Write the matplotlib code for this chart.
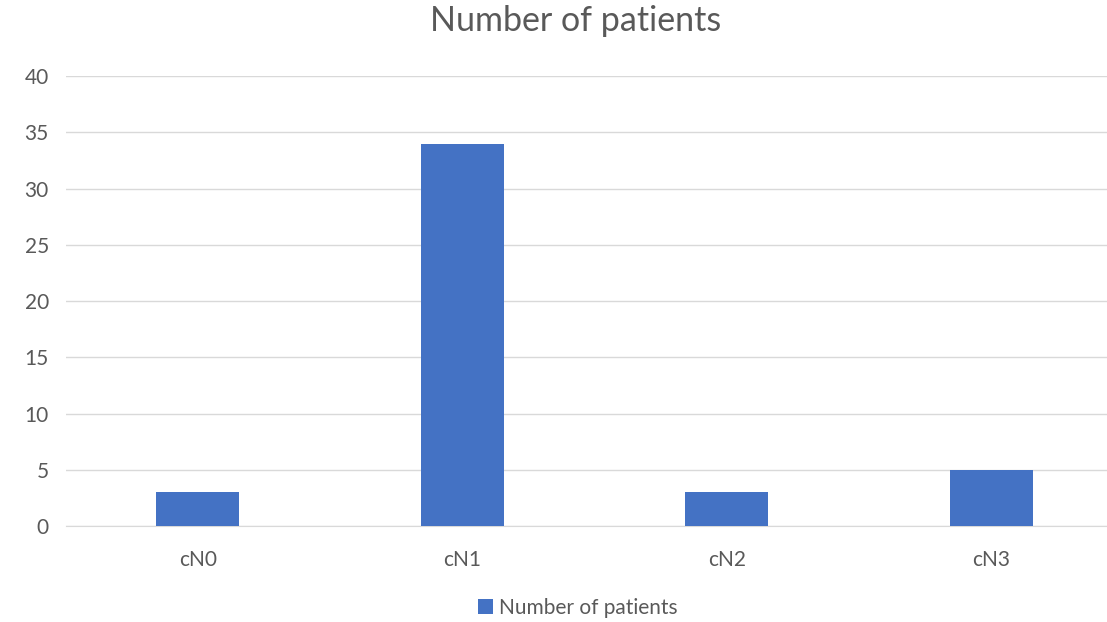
import matplotlib
matplotlib.use("Agg")
import matplotlib.pyplot as plt
from matplotlib.patches import Patch

categories = ["cN0", "cN1", "cN2", "cN3"]
patients = [3, 34, 3, 5]
y_ticks = [0, 5, 10, 15, 20, 25, 30, 35, 40]

BAR_COLOR = "#4472C4"
TEXT_COLOR = "#595959"
GRID_COLOR = "#D9D9D9"

plt.rcParams['font.family'] = ['Lato', 'DejaVu Sans']

fig = plt.figure(figsize=(11.07, 6.22), dpi=100)
ax = fig.add_axes([0.0592, 0.1543, 0.9557, 0.7235])

ax.bar(range(len(categories)), patients, width=0.315, color=BAR_COLOR, zorder=3)
ax.set_xlim(-0.5, len(categories) - 0.5)
ax.set_ylim(0, 40)
ax.set_yticks(y_ticks)
ax.set_xticks(range(len(categories)))
ax.set_xticklabels(categories)

ax.grid(axis='y', color=GRID_COLOR, linewidth=1, zorder=0)
for side in ['top', 'right', 'left']:
    ax.spines[side].set_visible(False)
ax.spines['bottom'].set_color(GRID_COLOR)
ax.tick_params(axis='both', length=0, labelsize=15, colors=TEXT_COLOR)
ax.tick_params(axis='x', pad=17)
ax.tick_params(axis='y', pad=12)

fig.text(0.52, 0.966, "Number of patients", ha='center', va='center',
         fontsize=24.5, color=TEXT_COLOR)

handles = [Patch(facecolor=BAR_COLOR, label="Number of patients")]
fig.legend(handles=handles, loc='center', bbox_to_anchor=(0.522, 0.023),
           frameon=False, fontsize=15, labelcolor=TEXT_COLOR,
           handlelength=0.7, handleheight=0.7, handletextpad=0.3)

fig.savefig("out.png", dpi=100, facecolor="white")
